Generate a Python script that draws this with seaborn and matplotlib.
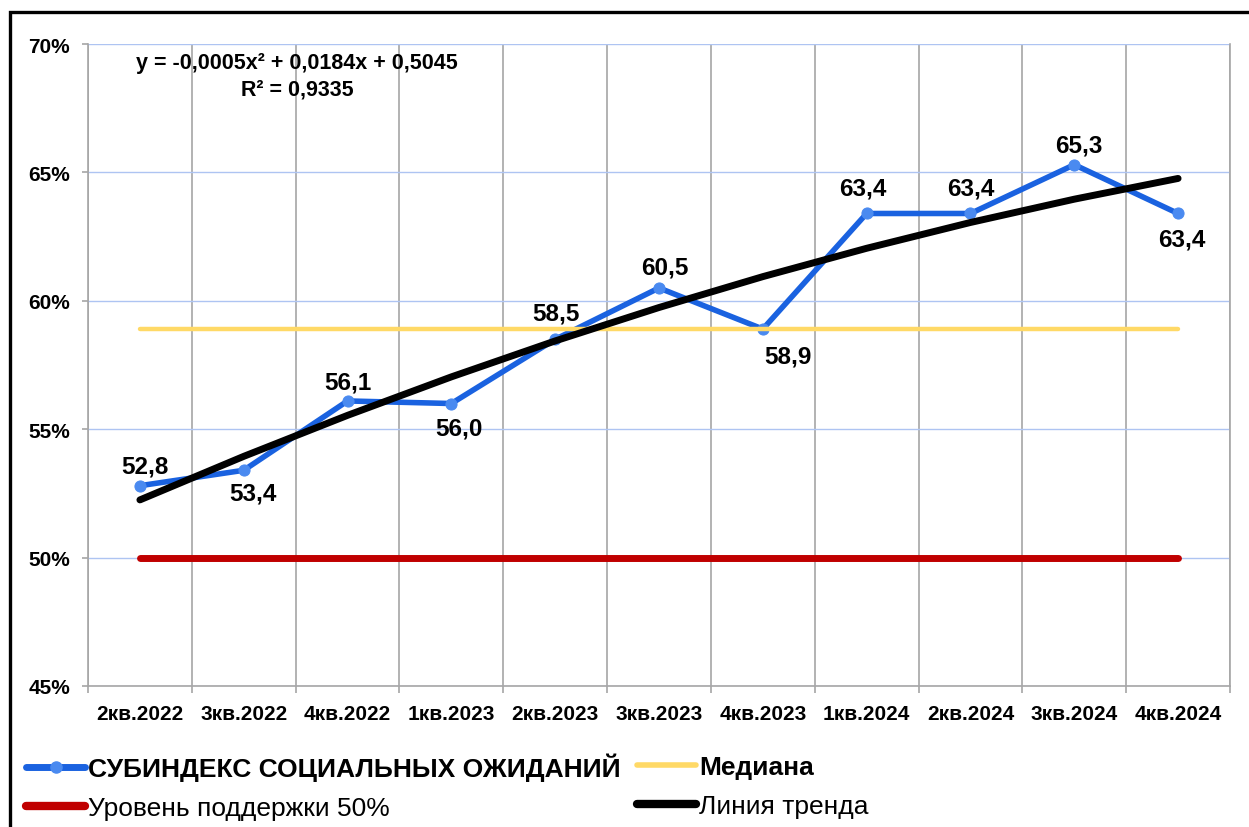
import matplotlib

matplotlib.use("Agg")
import matplotlib.pyplot as plt
import numpy as np
import seaborn as sns
from matplotlib.lines import Line2D
from matplotlib.patches import Rectangle
from matplotlib.ticker import FixedLocator, FuncFormatter

quarters = [
    "2кв.2022", "3кв.2022", "4кв.2022", "1кв.2023", "2кв.2023", "3кв.2023",
    "4кв.2023", "1кв.2024", "2кв.2024", "3кв.2024", "4кв.2024",
]
index_values = [52.8, 53.4, 56.1, 56.0, 58.5, 60.5, 58.9, 63.4, 63.4, 65.3, 63.4]
support_level = 50.0
y_ticks = [45, 50, 55, 60, 65, 70]
equation_text = "y = -0,0005x² + 0,0184x + 0,5045\nR² = 0,9335"
series_names = [
    "СУБИНДЕКС СОЦИАЛЬНЫХ ОЖИДАНИЙ",
    "Уровень поддержки 50%",
    "Медиана",
    "Линия тренда",
]
# label offsets in points (dx, dy) from each point
label_offsets = [
    (3.6, 14.4), (6.5, -16.6), (0, 13.7), (5.5, -17.3), (0.7, 19.0), (4.3, 15.0),
    (18.0, -19.4), (-3.0, 18.0), (0, 18.0), (3.6, 14.4), (3.0, -18.7),
]

BLUE = "#1a62e0"
BLUE_MARK = "#4a8af0"
GOLD = "#ffd966"
RED = "#c00000"

sns.set_theme(style="white")
plt.rcParams["font.family"] = ["Liberation Sans", "DejaVu Sans"]
plt.rcParams["text.color"] = "black"

pos = np.arange(len(quarters))
median_value = float(np.median(index_values))
coeffs = np.polyfit(pos + 1, index_values, 2)
trend = np.polyval(coeffs, pos + 1)

fig = plt.figure(figsize=(12.49, 8.28), dpi=100)
ax = fig.add_axes([88 / 1249, 1 - 687 / 828, (1230 - 88) / 1249, (687 - 45) / 828])

sns.lineplot(x=pos, y=index_values, color=BLUE, lw=4, marker="o", markersize=8,
             markerfacecolor=BLUE_MARK, markeredgecolor=BLUE_MARK, ax=ax, zorder=3)
sns.lineplot(x=pos, y=[median_value] * len(pos), color=GOLD, lw=3.2, ax=ax, zorder=4)
sns.lineplot(x=pos, y=[support_level] * len(pos), color=RED, lw=5, ax=ax, zorder=4)
sns.lineplot(x=pos, y=trend, color="black", lw=5, ax=ax, zorder=5)

for x, v, (dx, dy) in zip(pos, index_values, label_offsets):
    ax.annotate(f"{v:.1f}".replace(".", ","), (x, v), xytext=(dx, dy),
                textcoords="offset points", ha="center", va="center",
                fontsize=17.5, fontweight="bold", color="black", zorder=6)

ax.text(0.183, 0.987, equation_text, transform=ax.transAxes, ha="center", va="top",
        fontsize=15.5, fontweight="bold", linespacing=1.3, color="black")

ax.set_xlim(-0.5, len(quarters) - 0.5)
ax.set_ylim(y_ticks[0], y_ticks[-1])
ax.xaxis.set_major_locator(FixedLocator(pos))
ax.set_xticklabels(quarters)
ax.xaxis.set_minor_locator(FixedLocator(np.arange(len(quarters) + 1) - 0.5))
ax.yaxis.set_major_locator(FixedLocator(y_ticks))
ax.yaxis.set_major_formatter(FuncFormatter(lambda v, _: f"{v:.0f}%"))
ax.set_xlabel("")
ax.set_ylabel("")

ax.set_axisbelow(True)
ax.yaxis.grid(True, color="#aec4f2", lw=1)
ax.xaxis.grid(True, which="minor", color="#a6a6a6", lw=1.2)
ax.xaxis.grid(False, which="major")
for side in ["left", "bottom", "right"]:
    ax.spines[side].set_color("#a6a6a6")
    ax.spines[side].set_linewidth(1.2)
ax.spines["top"].set_visible(False)

ax.tick_params(axis="x", which="major", length=0, pad=13, labelsize=15, labelcolor="black")
ax.tick_params(axis="x", which="minor", length=5, width=1.2, color="#a6a6a6", bottom=True)
ax.tick_params(axis="y", length=4.5, width=1.2, color="#a6a6a6", pad=8.5,
               labelsize=15, labelcolor="black", left=True)
for lbl in ax.get_xticklabels() + ax.get_yticklabels():
    lbl.set_fontweight("bold")

# outer frame
fig.patches.append(Rectangle((10 / 1249, -0.1), 1.2, 1.1 - 13 / 828, transform=fig.transFigure,
                             fill=False, edgecolor="black", lw=2.4))

handles_left = [
    Line2D([], [], color=BLUE, lw=5, marker="o", markersize=8, solid_capstyle="round",
           markerfacecolor=BLUE_MARK, markeredgecolor=BLUE_MARK),
    Line2D([], [], color=RED, lw=6, solid_capstyle="round"),
]
handles_right = [
    Line2D([], [], color=GOLD, lw=4, solid_capstyle="round"),
    Line2D([], [], color="black", lw=6, solid_capstyle="round"),
]
common = dict(loc="center left", frameon=False, fontsize=19, handlelength=2.25,
              handletextpad=0.1, labelspacing=0.55, borderpad=0, borderaxespad=0,
              labelcolor="black")
leg1 = fig.legend(handles_left, series_names[:2], bbox_to_anchor=(26 / 1249, 1 - 787.5 / 828), **common)
leg2 = fig.legend(handles_right, series_names[2:], bbox_to_anchor=(637 / 1249, 1 - 787.5 / 828), **common)
leg1.get_texts()[0].set_fontweight("bold")
leg2.get_texts()[0].set_fontweight("bold")

fig.savefig("out.png", dpi=100)
plt.close(fig)
